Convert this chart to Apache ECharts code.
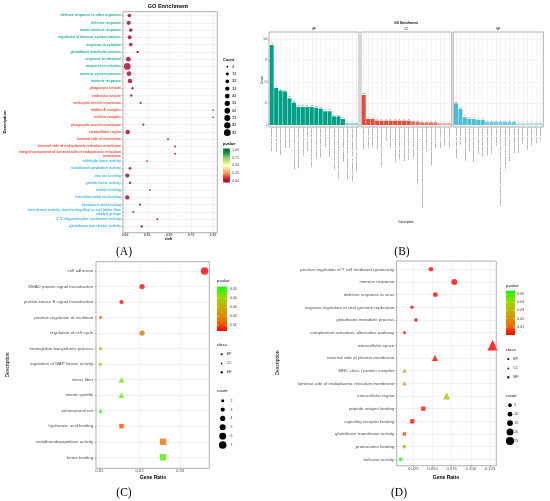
<!DOCTYPE html>
<html><head><meta charset="utf-8">
<script src="https://cdn.jsdelivr.net/npm/echarts@6/dist/echarts.min.js"></script>
<style>html,body{margin:0;background:#fff}#c{width:550px;height:501px}</style>
</head><body><div id="c"></div>
<script>
'use strict';
/* Four GO enrichment panels: (A) rich-factor dot plot, (B) faceted count bars,
   (C)/(D) gene-ratio dot plots with class shapes. One echarts instance, many grids. */

// ---- data ---------------------------------------------------------------- //
const aTerms = ['defense response to other organism', 'defense response', 'innate immune response', 'regulation of immune system process', 'response to cytokine', 'glutathione metabolic process', 'response to chemical', 'response to stimulus', 'immune system process', 'immune response',
  'phagocytic vesicle', 'endocytic vesicle', 'endocytic vesicle membrane', 'inhibin A complex', 'inhibin complex', 'phagocytic vesicle membrane', 'extracellular region', 'lumenal side of membrane', 'lumenal side of endoplasmic reticulum membrane', 'integral component of lumenal side of endoplasmic reticulum membrane',
  'aldehyde-lyase activity', 'metalloendopeptidase activity', 'zinc ion binding', 'growth factor activity', 'actinin binding', 'transition metal ion binding', 'hyaluronic acid binding', 'transferase activity, transferring alkyl or aryl (other than methyl) groups', "2'-5'-oligoadenylate synthetase activity", 'glutathione transferase activity'];
const aClass = ['BP', 'BP', 'BP', 'BP', 'BP', 'BP', 'BP', 'BP', 'BP', 'BP', 'CC', 'CC', 'CC', 'CC', 'CC', 'CC', 'CC', 'CC', 'CC', 'CC', 'MF', 'MF', 'MF', 'MF', 'MF', 'MF', 'MF', 'MF', 'MF', 'MF'];
const aRich = [0.049, 0.042, 0.065, 0.053, 0.065, 0.144, 0.038, 0.026, 0.045, 0.057, 0.083, 0.072, 0.178, 1.0, 1.0, 0.208, 0.031, 0.49, 0.57, 0.57, 0.25, 0.057, 0.026, 0.057, 0.284, 0.026, 0.17, 0.095, 0.367, 0.19];
const aCount = [21, 31, 21, 26, 21, 7, 43, 93, 40, 39, 7, 7, 5, 2, 2, 5, 35, 4, 4, 3, 2, 9, 30, 7, 2, 33, 4, 4, 4, 7];
const aPval = [1e-6, 1e-8, 1e-6, 1e-6, 1e-6, 1e-3, 1e-12, 1e-20, 1e-10, 1e-10, 1e-4, 1e-4, 1e-3, 0.01, 0.01, 1e-3, 1e-9, 0.01, 0.005, 0.005, 0.01, 1e-4, 1e-5, 1e-4, 0.01, 1e-6, 0.005, 0.01, 0.005, 0.003];
const aSizeBreaks = [2, 12, 22, 32, 42, 52, 62, 72, 82, 92];
const aPvalTicks = [0, 0.25, 0.5, 0.75, 1];

const bpTerms = ['response to stimulus', 'response to chemical', 'immune system process', 'immune response', 'defense response', 'regulation of immune system process', 'defense response to other organism', 'innate immune response', 'response to cytokine', 'response to external biotic stimulus', 'response to other organism', 'response to biotic stimulus', 'response to virus', 'defense response to virus', 'cellular response to cytokine stimulus', 'positive regulation of immune system process', 'glutathione metabolic process', 'negative regulation of viral genome replication', 'positive regulation of T cell mediated cytotoxicity', 'regulation of type I interferon production'];
const bpCount = [93, 43, 40, 39, 31, 26, 21, 21, 21, 21, 20, 19, 16, 16, 10, 10, 7, 2, 2, 2];
const ccTerms = ['extracellular region', 'phagocytic vesicle', 'endocytic vesicle', 'extracellular space', 'external side of plasma membrane', 'cell surface', 'vesicle membrane', 'cytoplasmic vesicle membrane', 'endocytic vesicle membrane', 'phagocytic vesicle membrane', 'MHC class I protein complex', 'lumenal side of membrane', 'lumenal side of endoplasmic reticulum membrane', 'integral component of lumenal side of endoplasmic reticulum membrane', 'MHC protein complex', 'endoplasmic reticulum membrane', 'side of membrane', 'inhibin A complex', 'inhibin complex', 'activin A complex'];
const ccCount = [35, 7, 7, 5, 5, 5, 5, 5, 5, 5, 5, 4, 4, 3, 3, 3, 3, 2, 2, 2];
const mfTerms = ['transition metal ion binding', 'zinc ion binding', 'metalloendopeptidase activity', 'growth factor activity', 'glutathione transferase activity', 'peptide antigen binding', 'signaling receptor binding', 'metallopeptidase activity', 'hyaluronic acid binding', 'cytokine activity', 'transferase activity, transferring alkyl or aryl (other than methyl) groups', "2'-5'-oligoadenylate synthetase activity", 'double-stranded RNA binding', 'endopeptidase activity', 'aldehyde-lyase activity', 'actinin binding', 'proteasome binding', 'helicase activity', 'heme binding', 'TAP binding'];
const mfCount = [25, 19, 9, 7, 7, 6, 6, 4, 4, 4, 4, 4, 4, 4, 2, 2, 2, 2, 2, 2];

const cTerms = ['cell adhesion', 'SMAD protein signal transduction', 'protein kinase B signal transduction', 'positive regulation of ovulation', 'regulation of cell cycle', 'hemoglobin biosynthetic process', 'regulation of MAP kinase activity', 'stress fiber', 'mitotic spindle', 'perineuronal net', 'hyaluronic acid binding', 'metalloendopeptidase activity', 'heme binding'];
const cClass = ['BP', 'BP', 'BP', 'BP', 'BP', 'BP', 'BP', 'CC', 'CC', 'CC', 'MF', 'MF', 'MF'];
const cRatio = [0.0361, 0.0206, 0.0155, 0.0103, 0.0206, 0.0103, 0.0103, 0.0155, 0.0155, 0.0103, 0.0155, 0.0258, 0.0258];
const cCount = [7, 4, 3, 2, 4, 2, 2, 3, 3, 2, 3, 5, 5];
const cPval = [0.004, 0.0045, 0.005, 0.012, 0.016, 0.03, 0.031, 0.046, 0.046, 0.052, 0.011, 0.016, 0.047];
const cPvalTicks = [0.01, 0.02, 0.03, 0.04, 0.05];
const cSizeBreaks = [2, 3, 4, 5, 6, 7];

const dTerms = ['positive regulation of T cell mediated cytotoxicity', 'immune response', 'defense response to virus', 'negative regulation of viral genome replication', 'glutathione metabolic process', 'complement activation, alternative pathway', 'extracellular space', 'external side of plasma membrane', 'MHC class I protein complex', 'lumenal side of endoplasmic reticulum membrane', 'extracellular region', 'peptide antigen binding', 'signaling receptor binding', 'glutathione transferase activity', 'proteasome binding', 'helicase activity'];
const dClass = ['BP', 'BP', 'BP', 'BP', 'BP', 'BP', 'CC', 'CC', 'CC', 'CC', 'CC', 'MF', 'MF', 'MF', 'MF', 'MF'];
const dRatio = [0.0481, 0.0785, 0.0537, 0.0233, 0.0285, 0.0135, 0.1285, 0.0533, 0.0135, 0.0135, 0.0685, 0.038, 0.0237, 0.0133, 0.0133, 0.0086];
const dCount = [9, 15, 10, 4, 5, 2, 25, 10, 2, 2, 13, 7, 7, 3, 2, 2];
const dPval = [0.001, 0.0002, 0.0008, 0.002, 0.002, 0.003, 0.00005, 0.001, 0.016, 0.016, 0.031, 0.002, 0.002, 0.008, 0.034, 0.053];
const dPvalTicks = [0.01, 0.02, 0.03, 0.04, 0.05];
const dSizeBreaks = [5, 10, 15, 20, 25];

// ---- styling ------------------------------------------------------------- //
const FONT = '"Liberation Sans", Arial, sans-serif';
const SERIF = '"Liberation Serif", "Times New Roman", serif';
const GRID_C = '#ebebeb', GRID_MINOR = '#f5f5f5', FRAME_C = '#a8a8a8', TICK_C = '#5a5a5a', AX_TXT = '#4d4d4d';
const RDYLGN = ['#a50026', '#d73027', '#f46d43', '#fdae61', '#fee08b', '#ffffbf', '#d9ef8b', '#a6d96a', '#66bd63', '#1a9850', '#006837'];
const RED_GREEN = ['#ff0000', '#ed6900', '#d69700', '#b8bd00', '#8adf00', '#00ff00'];   // ggplot red->green (Lab)
const A_TXT = { BP: '#1aae92', CC: '#ef4a3c', MF: '#3db5dd' };
const SHAPE = { BP: 'circle', CC: 'triangle', MF: 'rect' };
const SHAPE_K = { BP: 1, CC: 1.3, MF: 1.05 };
const sizeA = (c) => 0.9 + 0.6 * Math.sqrt(c);
const sizeC = (c) => -2.3 + 3.75 * Math.sqrt(c);
const sizeD = (c) => 2.6 + 0.22 * c;

// ---- helpers ------------------------------------------------------------- //
const grid = [], xAxis = [], yAxis = [], series = [], visualMap = [], graphic = [];
function addGrid(l, t, r, b, extra) {
  grid.push(Object.assign({ left: l, top: t, width: r - l, height: b - t, show: false, containLabel: false, outerBoundsMode: 'none' }, extra || {}));
  return grid.length - 1;
}
function pair(gi, xa, ya) {
  xAxis.push(Object.assign({ gridIndex: gi }, xa));
  yAxis.push(Object.assign({ gridIndex: gi }, ya));
  return [xAxis.length - 1, yAxis.length - 1];
}
const hid = (min, max, inverse) => ({ type: 'value', min, max, inverse: !!inverse, show: false });
const frame = () => ({ show: true, borderColor: FRAME_C, borderWidth: 0.9, backgroundColor: 'transparent', z: 5 });
function text(x, y, s, size, st, rot) {
  graphic.push({ type: 'text', x, y, rotation: rot || 0, silent: true, z: 20,
    style: Object.assign({ text: s, fontSize: size, fontFamily: FONT, fill: '#000', align: 'left', verticalAlign: 'middle' }, st || {}) });
}
function wrap(s) {
  if (!s || s.length <= 62) return s;
  const i = s.lastIndexOf(' ', 60);
  return s.slice(0, i) + '\n' + s.slice(i + 1);
}
function symbol(kind, x, y, s) {
  const st = { fill: '#000' };
  if (kind === 'circle') graphic.push({ type: 'circle', silent: true, z: 20, shape: { cx: x, cy: y, r: s / 2 }, style: st });
  else if (kind === 'rect') graphic.push({ type: 'rect', silent: true, z: 20, shape: { x: x - s / 2, y: y - s / 2, width: s, height: s }, style: st });
  else graphic.push({ type: 'polygon', silent: true, z: 20, shape: { points: [[x, y - s / 2], [x + s / 2, y + s / 2], [x - s / 2, y + s / 2]] }, style: st });
}
// ggplot-like colourbar: bar spans [bot,top] px = [vBot,vTop]; palette spans [vMin,vMax]
function colorbar(x, w, top, bot, vBot, vTop, pal, vMin, vMax, ticks, fmt, lx, fs) {
  const off = (v) => Math.max(0, Math.min(1, (v - vBot) / (vTop - vBot)));
  const stops = pal.map((c, i) => ({ offset: off(vMin + i / (pal.length - 1) * (vMax - vMin)), color: c }));
  graphic.push({ type: 'rect', silent: true, z: 20, shape: { x, y: top, width: w, height: bot - top },
    style: { fill: new echarts.graphic.LinearGradient(0, 1, 0, 0, stops) } });
  ticks.forEach((v) => {
    const y = bot - (v - vBot) / (vTop - vBot) * (bot - top);
    graphic.push({ type: 'line', silent: true, z: 21, shape: { x1: x, y1: y, x2: x + w * 0.2, y2: y }, style: { stroke: '#fff', lineWidth: 0.5 } });
    graphic.push({ type: 'line', silent: true, z: 21, shape: { x1: x + w * 0.8, y1: y, x2: x + w, y2: y }, style: { stroke: '#fff', lineWidth: 0.5 } });
    text(lx, y, fmt(v), fs, { fill: '#333' });
  });
}

// dot panel: frame + x gridline grid + row grid + data grid
function dotPanel(o) {
  const n = o.names.length;
  const k = (o.px1 - o.px0) / (o.tMax - o.tMin);
  const X = (v) => o.px0 + (v - o.tMin) * k;
  const tick = { show: true, length: 1.3, lineStyle: { color: TICK_C, width: 0.5 } };
  addGrid(o.l, o.t, o.r, o.b, frame());
  pair(addGrid(X(o.tMin), o.t, X(o.tMax), o.b), {
    type: 'value', min: o.tMin, max: o.tMax, interval: o.step,
    axisLine: { show: false }, axisTick: tick,
    axisLabel: { fontSize: o.tickSize, color: AX_TXT, fontFamily: FONT, fontWeight: o.bold ? 'bold' : 'normal', margin: o.xMargin, formatter: (v) => v.toFixed(o.dec) },
    splitLine: { show: true, lineStyle: { color: GRID_C, width: 0.6 } },
    minorTick: { show: false, splitNumber: 2 },
    minorSplitLine: { show: true, lineStyle: { color: GRID_MINOR, width: 0.4 } },
  }, hid(0, 1));
  pair(addGrid(o.l, o.row0, o.r, o.row1), hid(0, 1), {
    type: 'value', min: 0, max: n - 1, interval: 1, inverse: true,
    axisLine: { show: false }, axisTick: tick,
    axisLabel: { fontSize: o.labelSize, fontWeight: o.bold ? 'bold' : 'normal', color: o.labelColor || AX_TXT, fontFamily: FONT,
      margin: o.yMargin, lineHeight: o.labelSize * 1.05, hideOverlap: false, formatter: (v) => wrap(o.names[v]) },
    splitLine: { show: true, lineStyle: { color: GRID_C, width: 0.6 } },
  });
  return pair(addGrid(X(o.dMin), o.row0, X(o.dMax), o.row1), hid(o.dMin, o.dMax), hid(0, n - 1, true));
}

function classSeries(ax, terms, cls, ratio, count, pval, sizeFn) {
  const idx = [];
  ['BP', 'CC', 'MF'].forEach((c) => {
    const data = [];
    terms.forEach((t, i) => { if (cls[i] === c) data.push([ratio[i], i, count[i], pval[i]]); });
    series.push({ type: 'scatter', xAxisIndex: ax[0], yAxisIndex: ax[1], symbol: SHAPE[c], clip: false, silent: true,
      symbolSize: (v) => sizeFn(v[2]) * SHAPE_K[c], data });
    idx.push(series.length - 1);
  });
  return idx;
}

// ---- panel A ------------------------------------------------------------- //
const axA = dotPanel({ names: aTerms, l: 123, t: 11.7, r: 217.3, b: 232.7, row0: 15.5, row1: 226.5,
  tMin: 0, tMax: 1, step: 0.25, px0: 125, px1: 213, dMin: 0, dMax: 1, dec: 2,
  tickSize: 3.4, labelSize: 3.5, bold: true, xMargin: 0.6, yMargin: 2,
  labelColor: (v) => A_TXT[aClass[Number(v)]] });
series.push({ type: 'scatter', xAxisIndex: axA[0], yAxisIndex: axA[1], symbol: 'circle', clip: false, silent: true,
  symbolSize: (v) => sizeA(v[2]), data: aTerms.map((t, i) => [aRich[i], i, aCount[i], aPval[i]]) });
visualMap.push({ type: 'continuous', show: false, seriesIndex: series.length - 1, dimension: 3, min: 0, max: 1, inRange: { color: RDYLGN } });
text(168, 6, 'GO Enrichment', 5.5, { align: 'center', fontWeight: 'bold' });
text(168.5, 238.5, 'rich', 4, { align: 'center', fontWeight: 'bold' });
text(5, 122, 'Description', 4.2, { align: 'center', fontWeight: 'bold' }, Math.PI / 2);
text(223, 59.5, 'Count', 3.9, { fontWeight: 'bold' });
aSizeBreaks.forEach((c, i) => { const y = 66.7 + i * 7.33; symbol('circle', 227.3, y, sizeA(c)); text(232.3, y, String(c), 3.3, { fontWeight: 'bold', fill: '#333' }); });
text(223, 144, 'pvalue', 3.9, { fontWeight: 'bold' });
colorbar(223, 7, 148.5, 182.5, -0.048, 1.048, RDYLGN, 0, 1, aPvalTicks, (v) => v.toFixed(2), 232.3, 3.3);
text(124, 252, '(A)', 11.5, { align: 'center', fontFamily: SERIF });

// ---- panel B ------------------------------------------------------------- //
function barFacet(L, R, terms, counts, color, first, strip) {
  const T = 32, B = 127, y0 = 125, y100 = 39;
  const u = (R - L) / 20.2, c0 = L + 0.6 * u, c1 = R - 0.6 * u;
  const tick = { show: true, length: 1, lineStyle: { color: TICK_C, width: 0.4 } };
  addGrid(L, T, R, B, frame());
  pair(addGrid(c0, T, c1, B), {
    type: 'value', min: 1, max: 20, interval: 1, axisLine: { show: false }, axisTick: tick,
    axisLabel: { rotate: 90, fontSize: 2.5, color: AX_TXT, fontFamily: FONT, margin: 1.2, hideOverlap: false, formatter: (v) => terms[v - 1] },
    splitLine: { show: true, lineStyle: { color: GRID_C, width: 0.5 } },
  }, hid(0, 1));
  pair(addGrid(L, y100, R, y0), hid(0, 1), {
    type: 'value', min: 0, max: 100, interval: 25, axisLine: { show: false },
    axisTick: Object.assign({}, tick, { show: first }),
    axisLabel: { show: first, fontSize: 2.6, color: AX_TXT, fontFamily: FONT, margin: 1.5 },
    splitLine: { show: true, lineStyle: { color: GRID_C, width: 0.5 } },
    minorTick: { show: false, splitNumber: 2 },
    minorSplitLine: { show: true, lineStyle: { color: GRID_MINOR, width: 0.35 } },
  });
  const ax = pair(addGrid(c0, y100, c1, y0), hid(1, 20), hid(0, 100));
  series.push({ type: 'bar', xAxisIndex: ax[0], yAxisIndex: ax[1], barWidth: 0.9 * u, clip: false, silent: true,
    data: counts.map((c, i) => ({ value: [i + 1, c], itemStyle: { color, opacity: c <= 2 ? 0.55 : c <= 4 ? 0.8 : 1 } })),
    label: { show: true, position: 'top', distance: 0.5, fontSize: 2.2, color: '#555', fontFamily: FONT, formatter: (p) => p.value[1] } });
  text((L + R) / 2, 29.3, strip, 2.8, { align: 'center' });
}
barFacet(269, 359, bpTerms, bpCount, '#00a087', true, 'BP');
barFacet(361, 451.7, ccTerms, ccCount, '#e64b35', false, 'CC');
barFacet(453.3, 543.3, mfTerms, mfCount, '#4dbbd5', false, 'MF');
text(406, 23, 'GO Enrichment', 3.2, { align: 'center', fontWeight: 'bold' });
text(262, 80, 'Count', 3, { align: 'center' }, Math.PI / 2);
text(406, 222, 'Description', 3, { align: 'center' });
text(402, 252, '(B)', 11.5, { align: 'center', fontFamily: SERIF });

// ---- panel C ------------------------------------------------------------- //
const axC = dotPanel({ names: cTerms, l: 96, t: 261.7, r: 209.3, b: 468.3, row0: 271, row1: 457.3,
  tMin: 0.01, tMax: 0.03, step: 0.01, px0: 99.3, px1: 180, dMin: 0.01, dMax: 0.04, dec: 2,
  tickSize: 4.2, labelSize: 4.4, xMargin: 1, yMargin: 2.8 });
visualMap.push({ type: 'continuous', show: false, seriesIndex: classSeries(axC, cTerms, cClass, cRatio, cCount, cPval, sizeC),
  dimension: 3, min: 0.0037, max: 0.0529, inRange: { color: RED_GREEN } });
text(153, 477.7, 'Gene Ratio', 5, { align: 'center', fontWeight: 'bold' });
text(7.3, 365, 'Description', 5, { align: 'center' }, Math.PI / 2);
text(217, 281, 'pvalue', 4.3);
colorbar(217, 10, 286.7, 331, 0.0037, 0.0529, RED_GREEN, 0.0037, 0.0529, cPvalTicks, (v) => v.toFixed(2), 230, 3.5);
text(217, 345, 'class', 4.3);
['BP', 'CC', 'MF'].forEach((c, i) => { const y = 354.3 + i * 9; symbol(SHAPE[c], 221.7, y, 2.1); text(226.7, y, c, 3.5, { fill: '#333' }); });
text(217, 390.7, 'count', 4.3);
cSizeBreaks.forEach((c, i) => { const y = 400.7 + i * 8.87; symbol('circle', 222.7, y, sizeC(c)); text(230.5, y, String(c), 3.5, { fill: '#333' }); });
text(124, 493, '(C)', 11.5, { align: 'center', fontFamily: SERIF });

// ---- panel D ------------------------------------------------------------- //
const axD = dotPanel({ names: dTerms, l: 396.7, t: 261, r: 496.3, b: 465.7, row0: 269.3, row1: 459.3,
  tMin: 0.025, tMax: 0.125, step: 0.025, px0: 413.3, px1: 490, dMin: 0, dMax: 0.15, dec: 3,
  tickSize: 4.2, labelSize: 4.4, xMargin: 1.5, yMargin: 2.4 });
visualMap.push({ type: 'continuous', show: false, seriesIndex: classSeries(axD, dTerms, dClass, dRatio, dCount, dPval, sizeD),
  dimension: 3, min: 0, max: 0.054, inRange: { color: RED_GREEN } });
text(446, 477.7, 'Gene Ratio', 5, { align: 'center', fontWeight: 'bold' });
text(278, 363, 'Description', 5, { align: 'center' }, Math.PI / 2);
text(506, 286, 'pvalue', 4.3);
colorbar(506, 9, 290.7, 335, 0, 0.054, RED_GREEN, 0, 0.054, dPvalTicks, (v) => v.toFixed(2), 517.3, 3.5);
text(506, 350, 'class', 4.3);
['BP', 'CC', 'MF'].forEach((c, i) => { const y = 359 + i * 9.15; symbol(SHAPE[c], 508.3, y, 2.1); text(513.3, y, c, 3.5, { fill: '#333' }); });
text(506, 395.5, 'count', 4.3);
dSizeBreaks.forEach((c, i) => { const y = 405.2 + i * 8.95; symbol('circle', 510, y, sizeD(c)); text(514.3, y, String(c), 3.5, { fill: '#333' }); });
text(399, 493, '(D)', 11.5, { align: 'center', fontFamily: SERIF });

// ---- render -------------------------------------------------------------- //
const chart = echarts.init(document.getElementById('c'), null, { renderer: 'canvas' });
chart.setOption({ animation: false, backgroundColor: '#fff', grid, xAxis, yAxis, series, visualMap, graphic });
</script></body></html>
